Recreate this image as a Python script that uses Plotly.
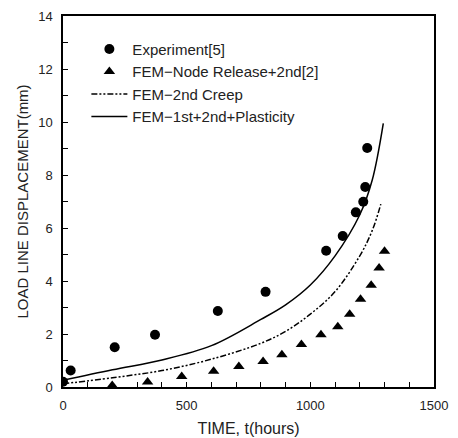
import plotly.graph_objects as go

# Experiment[5]
exp_t = [0, 31, 209, 372, 626, 819, 1064, 1131, 1184, 1214, 1222, 1230]
exp_d = [0.2, 0.62, 1.5, 1.97, 2.87, 3.59, 5.14, 5.70, 6.59, 6.99, 7.55, 9.02]

# FEM - Node Release + 2nd[2]
node_t = [199, 342, 480, 609, 711, 809, 885, 964, 1043, 1111, 1159, 1203, 1246, 1278, 1300]
node_d = [0.06, 0.19, 0.40, 0.59, 0.77, 0.96, 1.22, 1.60, 1.97, 2.27, 2.75, 3.31, 3.84, 4.49, 5.12]

# FEM - 2nd Creep
creep_t = [0, 200, 400, 600, 800, 900, 1000, 1100, 1200, 1250, 1285]
creep_d = [0.12, 0.35, 0.62, 1.05, 1.65, 2.1, 2.75, 3.6, 4.95, 5.9, 6.9]

# FEM - 1st + 2nd + Plasticity
plast_t = [0, 200, 400, 600, 800, 900, 1000, 1100, 1200, 1250, 1295]
plast_d = [0.25, 0.65, 1.02, 1.56, 2.55, 3.1, 3.85, 4.95, 6.5, 7.8, 9.95]

fig = go.Figure()
fig.add_trace(go.Scatter(
    x=exp_t, y=exp_d, mode="markers", name="Experiment[5]", legendgroup="a",
    marker=dict(symbol="circle", size=10, color="black")
))
fig.add_trace(go.Scatter(
    x=node_t, y=node_d, mode="markers", name="FEM\u2212Node Release+2nd[2]", legendgroup="b",
    marker=dict(symbol="triangle-up", size=10, color="black")
))
fig.add_trace(go.Scatter(
    x=creep_t, y=creep_d, mode="lines", name="FEM\u22122nd Creep", legendgroup="c",
    line=dict(color="black", width=1.5, dash="6px,2px,2px,2px,2px,2px", shape="spline")
))
fig.add_trace(go.Scatter(
    x=plast_t, y=plast_d, mode="lines", name="FEM\u22121st+2nd+Plasticity", legendgroup="d",
    line=dict(color="black", width=1.5, shape="spline")
))

axis_style = dict(
    showline=True, linecolor="black", linewidth=1.5, mirror=True, automargin=False,
    ticks="inside", ticklen=5, tickcolor="black", showgrid=False, zeroline=False,
    tickfont=dict(size=13, color="#222"), ticklabeloverflow="allow",
)

fig.update_xaxes(
    range=[0, 1500], tickmode="linear", tick0=0, dtick=500, ticklabelstandoff=6,
    minor=dict(dtick=100, ticks="inside", ticklen=5, tickcolor="black"),
    title=dict(text="TIME, t(hours)", font=dict(size=16, color="#222"), standoff=10),
    **axis_style
)
fig.update_yaxes(
    range=[0, 14], tickmode="linear", tick0=0, dtick=2, ticklabelstandoff=6,
    minor=dict(dtick=1, ticks="inside", ticklen=5, tickcolor="black"),
    title=dict(text="LOAD LINE DISPLACEMENT(mm)", font=dict(size=15, color="#222"), standoff=6),
    **axis_style
)

# the page body adds an 8px offset, so the figure is 8px smaller than the window
fig.update_layout(
    width=450, height=430,
    margin=dict(l=55, r=24, t=8, b=51),
    paper_bgcolor="white", plot_bgcolor="white",
    font=dict(family="Liberation Sans, Arial, sans-serif", color="#222"),
    legend=dict(
        x=0.063, y=0.955, xanchor="left", yanchor="top",
        font=dict(size=15, color="#222"), bgcolor="rgba(0,0,0,0)",
        tracegroupgap=0, itemwidth=36,
    ),
)

fig.write_html("out.html")
